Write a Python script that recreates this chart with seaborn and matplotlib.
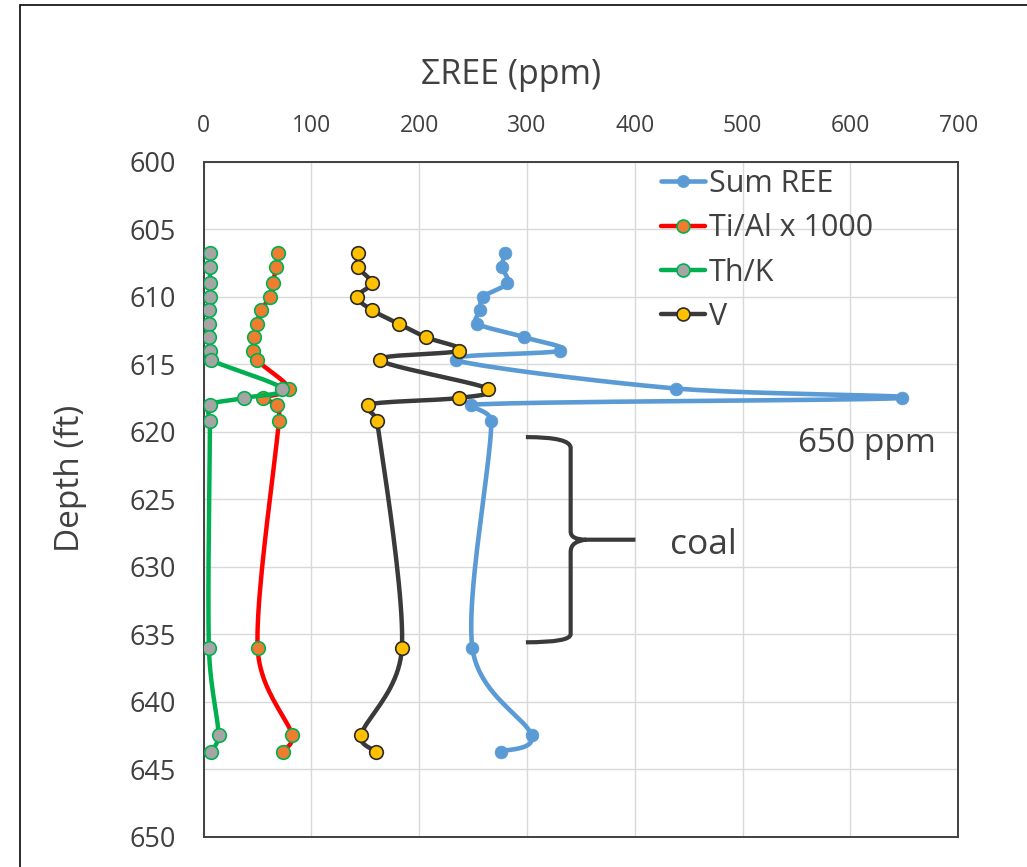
import numpy as np
import pandas as pd
import matplotlib
matplotlib.use("Agg")
import matplotlib.pyplot as plt
import seaborn as sns
from matplotlib.lines import Line2D
from matplotlib.path import Path
from matplotlib.patches import PathPatch

# ---------------- data ----------------
depth = [606.8, 607.8, 609.0, 610.0, 611.0, 612.0, 613.0, 614.0, 614.7,
         616.8, 617.5, 618.0, 619.2, 636.0, 642.5, 643.7]
sum_ree = [279.5, 277.0, 281.7, 259.5, 256.4, 253.9, 297.4, 331.0, 233.9,
           438.3, 648.0, 247.8, 266.9, 249.3, 304.2, 275.5]
ti_al = [69.0, 67.5, 64.1, 61.3, 53.6, 49.3, 47.1, 46.2, 49.3,
         79.2, 55.1, 68.1, 69.9, 50.2, 82.3, 74.0]
th_k = [6, 6, 6, 6, 5, 5, 5, 6, 7, 73, 38, 6, 6, 5, 14, 7]
v = [143.3, 143.3, 155.9, 142.4, 156.5, 180.9, 206.2, 237.0, 163.9,
     263.8, 237.0, 152.2, 160.9, 184.0, 146.0, 160.0]
series_names = ["Sum REE", "Ti/Al x 1000", "Th/K", "V"]
x_ticks = [0, 100, 200, 300, 400, 500, 600, 700]
y_ticks = [600, 605, 610, 615, 620, 625, 630, 635, 640, 645, 650]

df = pd.DataFrame({"depth": depth, "Sum REE": sum_ree, "Ti/Al x 1000": ti_al,
                   "Th/K": th_k, "V": v})

# ---------------- style ----------------
sns.set_theme(style="white")
plt.rcParams["font.family"] = ["Open Sans", "DejaVu Sans"]
TXT = "#404040"

W, H = 1027, 867
fig = plt.figure(figsize=(W / 100, H / 100), dpi=100)
ax = fig.add_axes([203.5 / W, 1 - 836.7 / H, (958.3 - 203.5) / W, (836.7 - 161.7) / H])
ax.set_xlim(0, 700)
ax.set_ylim(650, 600)

styles = {
    "Sum REE":      dict(line="#5B9BD5", face="#5B9BD5", edge="#5B9BD5", lw=3.3, ms=9.2, mew=0.5),
    "Ti/Al x 1000": dict(line="#FF0000", face="#ED7D31", edge="#00B050", lw=3.2, ms=9.8, mew=1.2),
    "Th/K":         dict(line="#00B050", face="#A5A5A5", edge="#00B050", lw=3.2, ms=9.8, mew=1.2),
    "V":            dict(line="#3A3A3A", face="#FFC000", edge="#2B2B2B", lw=3.2, ms=9.8, mew=1.2),
}


def _clamp(d, limit):
    n = np.hypot(*d)
    if n > limit and n > 0:
        return d * (limit / n)
    return d


def smooth(ax, xs, ys, n=24, k=0.45):
    P = ax.transData.transform(np.column_stack([xs, ys]))
    m = len(P)
    out = [P[0]]
    t = np.linspace(0, 1, n)[1:, None]
    for i in range(m - 1):
        p0 = P[i - 1] if i > 0 else P[i]
        p1, p2 = P[i], P[i + 1]
        p3 = P[i + 2] if i + 2 < m else P[i + 1]
        seglen = np.hypot(*(p2 - p1))
        c1 = p1 + _clamp((p2 - p0) / 6.0, k * seglen)
        c2 = p2 - _clamp((p3 - p1) / 6.0, k * seglen)
        seg = (1 - t) ** 3 * p1 + 3 * (1 - t) ** 2 * t * c1 + 3 * (1 - t) * t ** 2 * c2 + t ** 3 * p2
        out.extend(seg)
    return ax.transData.inverted().transform(np.array(out))


z = 3
for name in series_names:
    s = styles[name]
    curve = smooth(ax, df[name].values, df["depth"].values)
    ax.plot(curve[:, 0], curve[:, 1], color=s["line"], lw=s["lw"],
            solid_capstyle="round", zorder=z)
    sns.scatterplot(data=df, x=name, y="depth", ax=ax, color=s["face"],
                    edgecolor=s["edge"], linewidth=s["mew"], s=s["ms"] ** 2,
                    zorder=z + 0.5, legend=False)
    z += 1

ax.set_xlim(0, 700)
ax.set_ylim(650, 600)

# axes / ticks
ax.xaxis.tick_top()
ax.xaxis.set_label_position("top")
ax.set_xticks(x_ticks)
ax.set_yticks(y_ticks)
ax.tick_params(axis="x", length=0, pad=17, labelsize=16.5, labelcolor=TXT)
ax.tick_params(axis="y", length=0, pad=20, labelsize=19.5, labelcolor=TXT)
ax.grid(True, color="#D9D9D9", lw=1.0)
ax.set_axisbelow(True)
for sp in ax.spines.values():
    sp.set_visible(True)
    sp.set_color("#404040")
    sp.set_linewidth(1.4)

ax.set_xlabel("ΣREE (ppm)", fontsize=24.5, color=TXT)
ax.xaxis.set_label_coords((511 - 203.5) / 754.8, (836.7 - 75) / 675.0)
ax.xaxis.label.set_va("center")
ax.set_ylabel("Depth (ft)", fontsize=24, color=TXT)
ax.yaxis.set_label_coords((70 - 203.5) / 754.8, (836.7 - 478) / 675.0)
ax.yaxis.label.set_va("center")

# legend
handles = []
for name in series_names:
    s = styles[name]
    handles.append(Line2D([], [], color=s["line"], lw=s["lw"], marker="o",
                          markersize=s["ms"] * 0.95, markerfacecolor=s["face"],
                          markeredgecolor=s["edge"], markeredgewidth=s["mew"]))
leg = fig.legend(handles, series_names, loc="upper left",
                 bbox_to_anchor=(661 / W, 1 - 169 / H), bbox_transform=fig.transFigure,
                 frameon=False, fontsize=22, handlelength=1.45, handletextpad=0.12,
                 labelspacing=0.47, borderpad=0, borderaxespad=0)
for t in leg.get_texts():
    t.set_color(TXT)

# curly brace for coal interval
verts = [(299, 620.4), (340.5, 620.4), (340.5, 621.2),
         (340.5, 627.4),
         (340.5, 628.0), (355, 628.0),
         (400.6, 628.0),
         (355, 628.0), (340.5, 628.1), (340.5, 628.9),
         (340.5, 635.0),
         (340.5, 635.6), (299, 635.6)]
codes = [Path.MOVETO, Path.CURVE3, Path.CURVE3,
         Path.LINETO,
         Path.CURVE3, Path.CURVE3,
         Path.LINETO,
         Path.MOVETO, Path.CURVE3, Path.CURVE3,
         Path.LINETO,
         Path.CURVE3, Path.CURVE3]
ax.add_patch(PathPatch(Path(verts, codes), fill=False, edgecolor="#3A3A3A", lw=3.0,
                       capstyle="butt", joinstyle="round", zorder=2.5))
ax.text(433, 628.4, "coal", fontsize=25.5, color=TXT, ha="left", va="center")
ax.text(551, 620.9, "650 ppm", fontsize=24, color=TXT, ha="left", va="center")

# outer chart border
fig.add_artist(Line2D([20 / W, 20 / W], [-0.1, 1 - 5 / H], transform=fig.transFigure,
                      color="#1A1A1A", lw=1.3))
fig.add_artist(Line2D([20 / W, 1.1], [1 - 5 / H, 1 - 5 / H], transform=fig.transFigure,
                      color="#1A1A1A", lw=1.3))

fig.savefig("out.png", dpi=100)
